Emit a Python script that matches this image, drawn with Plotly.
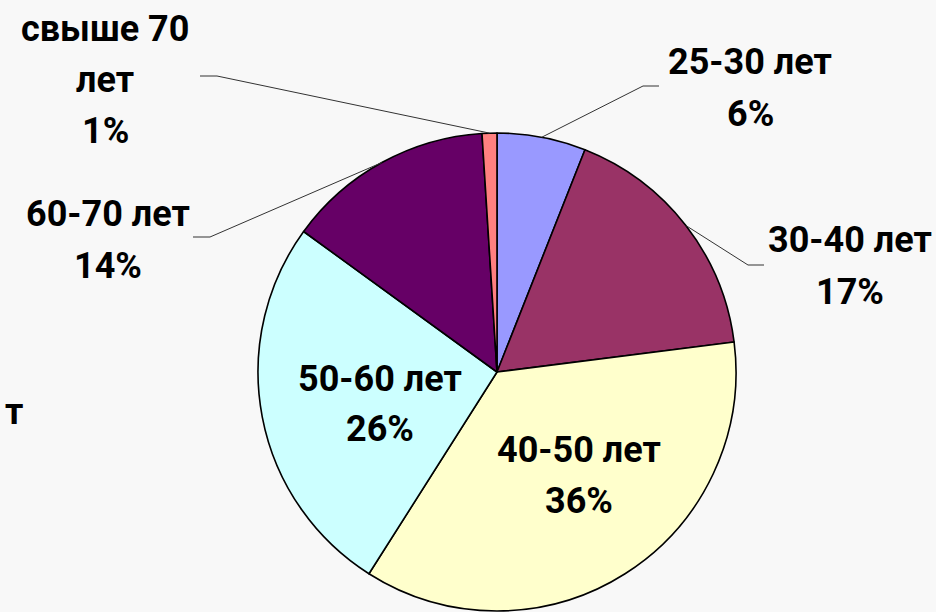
import math
import plotly.graph_objects as go

# ---- data ----
categories = ["25-30 лет", "30-40 лет", "40-50 лет", "50-60 лет", "60-70 лет", "свыше 70 лет"]
values = [6, 17, 36, 26, 14, 1]
colors = ["#9999FF", "#993366", "#FFFFCC", "#CCFFFF", "#660066", "#FF8080"]
# label line breaks as shown in the picture
label_lines = [
    ["25-30 лет", "6%"],
    ["30-40 лет", "17%"],
    ["40-50 лет", "36%"],
    ["50-60 лет", "26%"],
    ["60-70 лет", "14%"],
    ["свыше 70", "лет", "1%"],
]

# ---- layout (pixels) ----
W, H = 936, 612
CX, CY, R = 497, 372, 239
FONT = "Roboto, Arial, sans-serif"
FS = 36
LINE_H = 51
# label block centres (px)
label_pos = [(750, 88), (850, 266), (579, 475), (380, 404), (108, 240), (105, 80)]
# leader elbows (px): (elbow point, horizontal end) or None for inside labels
leaders = [
    ((643, 86), (659, 86)),
    ((748, 265), (764, 265)),
    None,
    None,
    ((210, 237), (193, 237)),
    ((217, 76), (200, 76)),
]

fig = go.Figure()
fig.add_trace(go.Pie(
    labels=categories,
    values=values,
    sort=False,
    direction="clockwise",
    rotation=0,
    marker=dict(colors=colors, line=dict(color="#000000", width=1.6)),
    textinfo="none",
    hoverinfo="label+percent",
    showlegend=False,
    domain=dict(x=[(CX - R) / W, (CX + R) / W], y=[1 - (CY + R) / H, 1 - (CY - R) / H]),
))

def px(x):
    return x / W

def py(y):
    return 1 - y / H

annotations = []
shapes = []
total = sum(values)
cum = 0
for i, v in enumerate(values):
    mid = (cum + v / 2) / total * 2 * math.pi
    cum += v
    lx, ly = label_pos[i]
    lines = label_lines[i]
    n = len(lines)
    for k, t in enumerate(lines):
        yk = ly + (k - (n - 1) / 2) * LINE_H
        annotations.append(dict(
            x=px(lx), y=py(yk), xref="paper", yref="paper",
            text=t, showarrow=False, xanchor="center", yanchor="middle",
            font=dict(family=FONT, size=FS, color="#000000", weight="bold"),
        ))
    if leaders[i] is not None:
        ex = CX + R * math.sin(mid)
        ey = CY - R * math.cos(mid)
        (bx, by), (hx, hy) = leaders[i]
        path = f"M {px(ex)} {py(ey)} L {px(bx)} {py(by)} L {px(hx)} {py(hy)}"
        shapes.append(dict(type="path", xref="paper", yref="paper", path=path,
                           line=dict(color="#333333", width=1)))

# cut-off fragment at the left edge
annotations.append(dict(
    x=px(3), y=py(412), xref="paper", yref="paper", text="т", showarrow=False,
    xanchor="left", yanchor="middle",
    font=dict(family=FONT, size=FS, color="#000000", weight="bold"),
))

fig.update_layout(
    width=W, height=H,
    margin=dict(l=0, r=0, t=0, b=0),
    paper_bgcolor="#f8f8f8",
    plot_bgcolor="#f8f8f8",
    annotations=annotations,
    shapes=shapes,
)

fig.write_html("out.html", config={"displayModeBar": False},
               post_script="document.body.style.margin='0';")
